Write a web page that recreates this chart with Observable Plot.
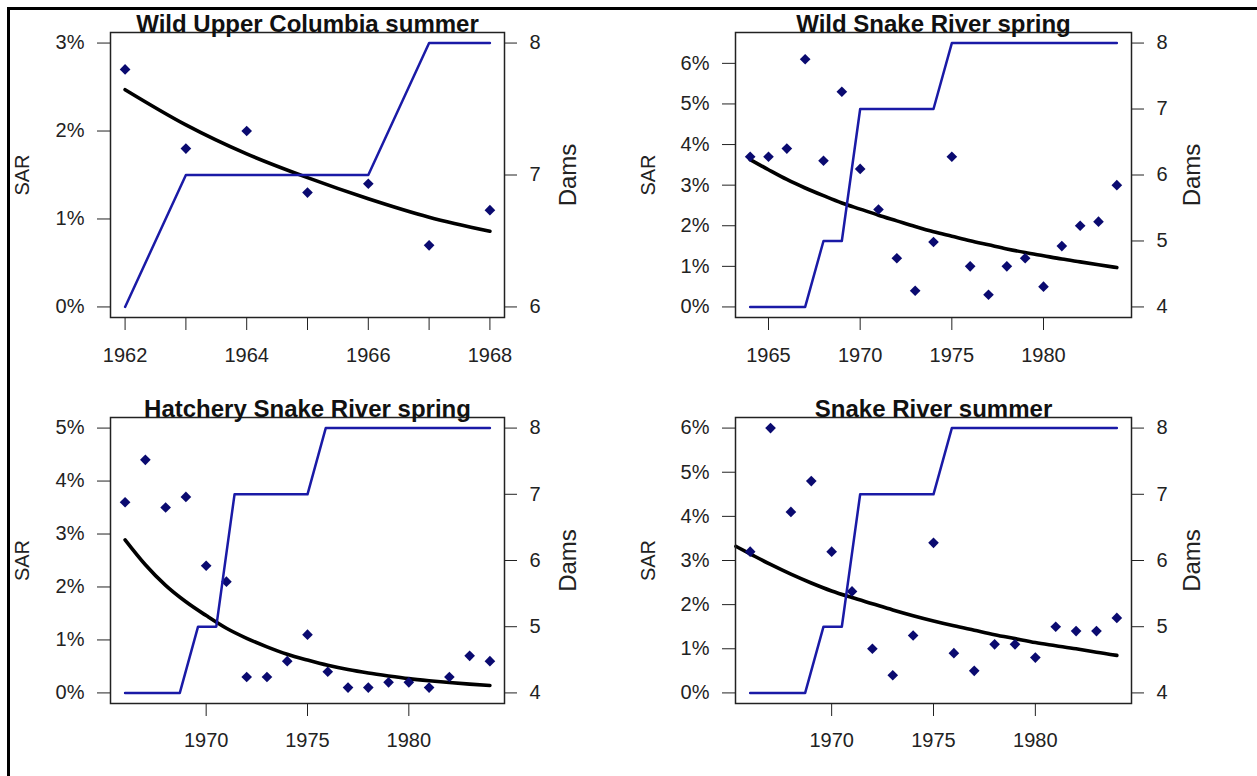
<!DOCTYPE html>
<html>
<head>
<meta charset="utf-8">
<script src="https://cdn.jsdelivr.net/npm/d3@7"></script>
<script src="https://cdn.jsdelivr.net/npm/@observablehq/plot@0.6"></script>
<style>
  html, body { margin: 0; padding: 0; background: #fff; }
  #chart { position: relative; width: 1257px; height: 776px; background: #fff; overflow: hidden; }
  #chart svg { position: absolute; }
  #border { position: absolute; left: 7px; top: 7px; right: -10px; bottom: -10px;
            border-left: 3px solid #000; border-top: 3px solid #000; }
</style>
</head>
<body>
<div id="chart"><div id="border"></div></div>
<script>
// ---------- Panel titles ----------
const titles = ["Wild Upper Columbia summer", "Wild Snake River spring",
                "Hatchery Snake River spring", "Snake River summer"];

// ---------- Panel 1: Wild Upper Columbia summer ----------
const years1 = [1962, 1963, 1964, 1965, 1966, 1967, 1968];
const sar1   = [2.7, 1.8, 2.0, 1.3, 1.4, 0.7, 1.1];
const fitYears1 = [1962, 1963, 1964, 1965, 1966, 1967, 1968];
const fit1      = [2.47, 2.07, 1.74, 1.47, 1.23, 1.02, 0.86];
const damYears1 = [1962, 1963, 1966, 1967, 1968];
const dams1     = [6, 7, 7, 8, 8];

// ---------- Panel 2: Wild Snake River spring ----------
const years2 = [1964,1965,1966,1967,1968,1969,1970,1971,1972,1973,1974,1975,1976,1977,1978,1979,1980,1981,1982,1983,1984];
const sar2   = [3.7, 3.7, 3.9, 6.1, 3.6, 5.3, 3.4, 2.4, 1.2, 0.4, 1.6, 3.7, 1.0, 0.3, 1.0, 1.2, 0.5, 1.5, 2.0, 2.1, 3.0];
const fitYears2 = years2;
const fit2      = [3.63, 3.38, 3.14, 2.93, 2.74, 2.56, 2.41, 2.26, 2.12, 1.98, 1.85, 1.74, 1.63, 1.53, 1.43, 1.34, 1.26, 1.18, 1.11, 1.04, 0.97];
const damYears2 = [1964, 1967, 1968, 1969, 1970, 1974, 1975, 1984];
const dams2     = [4, 4, 5, 5, 7, 7, 8, 8];

// ---------- Panel 3: Hatchery Snake River spring ----------
const years3 = [1966,1967,1968,1969,1970,1971,1972,1973,1974,1975,1976,1977,1978,1979,1980,1981,1982,1983,1984];
const sar3   = [3.6, 4.4, 3.5, 3.7, 2.4, 2.1, 0.3, 0.3, 0.6, 1.1, 0.4, 0.1, 0.1, 0.2, 0.2, 0.1, 0.3, 0.7, 0.6];
const fitYears3 = years3;
const fit3      = [2.89, 2.42, 2.03, 1.72, 1.46, 1.22, 1.03, 0.87, 0.73, 0.62, 0.52, 0.44, 0.375, 0.32, 0.27, 0.23, 0.195, 0.165, 0.14];
const damYears3 = [1966, 1968.7, 1969.6, 1970.5, 1971.4, 1975.0, 1975.9, 1984];
const dams3     = [4, 4, 5, 5, 7, 7, 8, 8];

// ---------- Panel 4: Snake River summer ----------
const years4 = years3;
const sar4   = [3.2, 6.0, 4.1, 4.8, 3.2, 2.3, 1.0, 0.4, 1.3, 3.4, 0.9, 0.5, 1.1, 1.1, 0.8, 1.5, 1.4, 1.4, 1.7];
const fitYears4 = [1965.3,1966,1967,1968,1969,1970,1971,1972,1973,1974,1975,1976,1977,1978,1979,1980,1981,1982,1983,1984];
const fit4      = [3.32, 3.15, 2.91, 2.69, 2.49, 2.31, 2.16, 2.02, 1.88, 1.75, 1.63, 1.52, 1.42, 1.32, 1.23, 1.14, 1.07, 1.00, 0.92, 0.85];
const damYears4 = damYears3;
const dams4     = dams3;

// ---------- Axis ticks / labels ----------
const sarTop   = [3, 6.5, 5, 6];          // SAR value aligned with the top dam count
const damRange = [[6, 8], [4, 8], [4, 8], [4, 8]];
const sarTicks = [[0,1,2,3], [0,1,2,3,4,5,6], [0,1,2,3,4,5], [0,1,2,3,4,5,6]];
const damTicks = [[6,7,8], [4,5,6,7,8], [4,5,6,7,8], [4,5,6,7,8]];
const xTicks   = [[1962,1963,1964,1965,1966,1967,1968], [1965,1970,1975,1980], [1970,1975,1980], [1970,1975,1980]];
const xTickLabels = [["1962","","1964","","1966","","1968"], ["1965","1970","1975","1980"], ["1970","1975","1980"], ["1970","1975","1980"]];

const panels = [
  {years: years1, sar: sar1, fx: fitYears1, fy: fit1, dx: damYears1, dy: dams1},
  {years: years2, sar: sar2, fx: fitYears2, fy: fit2, dx: damYears2, dy: dams2},
  {years: years3, sar: sar3, fx: fitYears3, fy: fit3, dx: damYears3, dy: dams3},
  {years: years4, sar: sar4, fx: fitYears4, fy: fit4, dx: damYears4, dy: dams4}
];

// layout of the four plots (pixels)
const layout = [
  {left: 0,   top: 0,   width: 628, height: 385, mL: 110, mR: 124, mT: 32, mB: 68, padX: 17, sarDx: -88, damDx: 64},
  {left: 628, top: 0,   width: 629, height: 385, mL: 107, mR: 126, mT: 32, mB: 68, padX: 17, sarDx: -87, damDx: 61},
  {left: 0,   top: 385, width: 628, height: 391, mL: 110, mR: 124, mT: 32, mB: 73, padX: 16, sarDx: -88, damDx: 64},
  {left: 628, top: 385, width: 629, height: 391, mL: 107, mR: 126, mT: 32, mB: 73, padX: 16, sarDx: -87, damDx: 61}
];

const chart = document.getElementById("chart");
const FONT = "'Liberation Sans', Arial, Helvetica, sans-serif";

panels.forEach((p, k) => {
  const L = layout[k];
  const [dMin, dMax] = damRange[k];
  const top = sarTop[k];
  const toSar = d => (d - dMin) / (dMax - dMin) * top;
  const toDam = v => Math.round(dMin + v / top * (dMax - dMin));

  const pts  = p.years.map((y, i) => ({x: y, y: p.sar[i]}));
  const fit  = p.fx.map((y, i) => ({x: y, y: p.fy[i]}));
  const dam  = p.dx.map((y, i) => ({x: y, y: toSar(p.dy[i])}));

  const [x0, x1] = d3.extent(p.years);
  const ex = (x1 - x0) * 0.04, ey = top * 0.04;
  const labelMap = new Map(xTicks[k].map((t, i) => [t, xTickLabels[k][i]]));

  const svg = Plot.plot({
    width: L.width, height: L.height,
    marginLeft: L.mL, marginRight: L.mR, marginTop: L.mT, marginBottom: L.mB,
    style: {fontFamily: FONT, fontSize: "20px", color: "#222", background: "transparent", overflow: "visible"},
    x: {domain: [x0 - ex, x1 + ex], axis: null},
    y: {domain: [-ey, top + ey], axis: null},
    marks: [
      Plot.line(fit, {x: "x", y: "y", stroke: "#000", strokeWidth: 3.6, curve: "monotone-x"}),
      Plot.dot(pts, {x: "x", y: "y", symbol: "diamond2", r: 4.8, fill: "#0a0a70", stroke: "none"}),
      Plot.line(dam, {x: "x", y: "y", stroke: "#1a1aa6", strokeWidth: 2.5}),
      Plot.frame({stroke: "#222", strokeWidth: 1.5}),
      Plot.axisX(xTicks[k], {anchor: "bottom", tickSize: 13, tickPadding: L.padX, stroke: "#222",
        tickFormat: d => labelMap.get(d), label: null}),
      Plot.axisY(sarTicks[k], {anchor: "left", tickSize: 13, tickPadding: 13, stroke: "#222",
        tickFormat: d => d + "%", label: null}),
      Plot.axisY(damTicks[k].map(toSar), {anchor: "right", tickSize: 12, tickPadding: 13, stroke: "#222",
        tickFormat: v => String(toDam(v)), label: null}),
      Plot.text([titles[k]], {frameAnchor: "top", textAnchor: "middle", lineAnchor: "bottom", dy: -1,
        fontSize: 24, fontWeight: "bold", fill: "#111"}),
      Plot.text(["SAR"], {frameAnchor: "left", textAnchor: "middle", rotate: -90, dx: L.sarDx, fontSize: 20, fill: "#222"}),
      Plot.text(["Dams"], {frameAnchor: "right", textAnchor: "middle", rotate: -90, dx: L.damDx, fontSize: 24, fill: "#222"})
    ]
  });
  svg.style.left = L.left + "px";
  svg.style.top = L.top + "px";
  chart.appendChild(svg);
});
</script>
</body>
</html>
